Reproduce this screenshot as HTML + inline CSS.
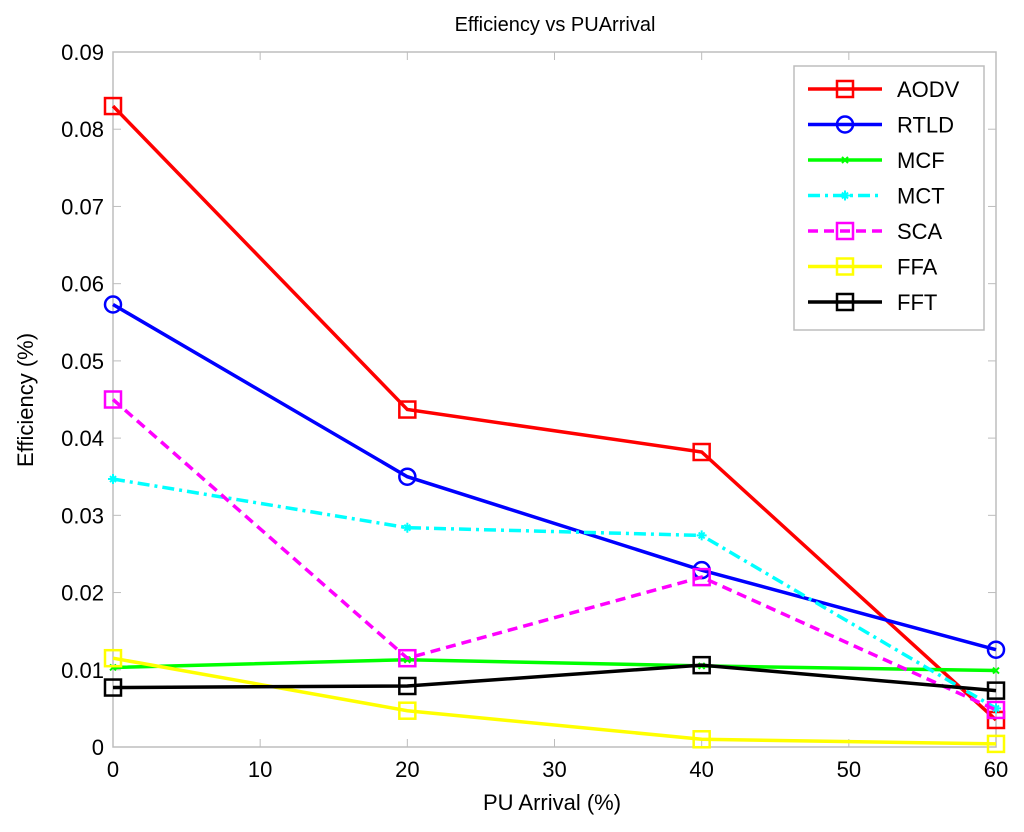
<!DOCTYPE html>
<html><head><meta charset="utf-8"><style>
body{margin:0;background:#fff;}
svg{display:block;font-family:"Liberation Sans",sans-serif;}
</style></head><body>
<svg id="chart" width="1024" height="832" xmlns="http://www.w3.org/2000/svg">
<rect width="1024" height="832" fill="#fff"/>
<text x="555" y="31" font-size="20" text-anchor="middle">Efficiency vs PUArrival</text>
<g id="axes"></g>
<g id="series"></g>
<g id="legend"></g>
<text x="552" y="810" font-size="22" text-anchor="middle">PU Arrival (%)</text>
<text transform="translate(33,400) rotate(-90)" font-size="22" text-anchor="middle">Efficiency (%)</text>
</svg>
<script>
const xVals=[0,20,40,60];
const xTicks=[0,10,20,30,40,50,60];
const yTicks=[0,0.01,0.02,0.03,0.04,0.05,0.06,0.07,0.08,0.09];
const yTickLabels=["0","0.01","0.02","0.03","0.04","0.05","0.06","0.07","0.08","0.09"];
const names=["AODV","RTLD","MCF","MCT","SCA","FFA","FFT"];
const aodv=[0.083,0.0437,0.0382,0.0035];
const rtld=[0.0573,0.035,0.0229,0.0126];
const mcf=[0.0103,0.0113,0.0105,0.0099];
const mct=[0.0347,0.0284,0.0274,0.005];
const sca=[0.045,0.0115,0.022,0.0048];
const ffa=[0.0115,0.0047,0.001,0.0004];
const fft=[0.0077,0.0079,0.0106,0.0073];

const L=113,R=996,T=52,B=747;
const xs=v=>L+(v-0)/60*(R-L);
const ys=v=>B-(v/0.09)*(B-T);
const NS="http://www.w3.org/2000/svg";
function mk(tag,attrs,parent){const e=document.createElementNS(NS,tag);for(const k in attrs)e.setAttribute(k,attrs[k]);parent.appendChild(e);return e;}
const axes=document.getElementById('axes');
const box=mk('rect',{x:L,y:T,width:R-L,height:B-T,fill:'none',stroke:'#bdbdbd','stroke-width':1.5},axes);


xTicks.forEach(t=>{
  const x=xs(t);
  mk('line',{x1:x,y1:B,x2:x,y2:B-8,stroke:'#bdbdbd'},axes);
  mk('line',{x1:x,y1:T,x2:x,y2:T+8,stroke:'#bdbdbd'},axes);
  const tx=mk('text',{x:x,y:B+30,'font-size':22,'text-anchor':'middle'},axes);
  tx.textContent=t;
  
  
});
yTicks.forEach((t,i)=>{
  const y=ys(t);
  mk('line',{x1:L,y1:y,x2:L+8,y2:y,stroke:'#bdbdbd'},axes);
  mk('line',{x1:R,y1:y,x2:R-8,y2:y,stroke:'#bdbdbd'},axes);
  const tx=mk('text',{x:L-9,y:y+8,'font-size':22,'text-anchor':'end'},axes);
  tx.textContent=yTickLabels[i];
  
  
});
const styles=[
 {d:aodv,c:'#ff0000',dash:'',m:'sq'},
 {d:rtld,c:'#0000ff',dash:'',m:'circ'},
 {d:mcf,c:'#00ff00',dash:'',m:'x'},
 {d:mct,c:'#00ffff',dash:'12 5 3 5',m:'star'},
 {d:sca,c:'#ff00ff',dash:'10 6',m:'sq'},
 {d:ffa,c:'#ffff00',dash:'',m:'sq'},
 {d:fft,c:'#000000',dash:'',m:'sq'}
];
function marker(g,m,x,y,c){
  if(m==='sq')mk('rect',{x:x-8,y:y-8,width:16,height:16,fill:'none',stroke:c,'stroke-width':2.5},g);
  else if(m==='circ')mk('circle',{cx:x,cy:y,r:8,fill:'none',stroke:c,'stroke-width':2.5},g);
  else if(m==='x'){mk('path',{d:`M${x-3} ${y-3}L${x+3} ${y+3}M${x-3} ${y+3}L${x+3} ${y-3}`,stroke:c,'stroke-width':2},g);}
  else {mk('path',{d:`M${x-5} ${y}L${x+5} ${y}M${x} ${y-5}L${x} ${y+5}M${x-3} ${y-3}L${x+3} ${y+3}M${x-3} ${y+3}L${x+3} ${y-3}`,stroke:c,'stroke-width':2},g);}
}
const sg=document.getElementById('series');
styles.forEach((s,i)=>{
  const g=mk('g',{},sg);
  
  
  const pts=s.d.map((v,j)=>xs(xVals[j])+','+ys(v)).join(' ');
  const pl=mk('polyline',{points:pts,fill:'none',stroke:s.c,'stroke-width':3.5,'stroke-dasharray':s.dash},g);
  s.d.forEach((v,j)=>marker(g,s.m,xs(xVals[j]),ys(v),s.c));
});
const lg=document.getElementById('legend');
const lb=mk('rect',{x:794,y:66,width:190,height:264,fill:'#fff',stroke:'#bdbdbd','stroke-width':1.5},lg);


styles.forEach((s,i)=>{
  const y=89+i*35.5;
  const g=mk('g',{},lg);
  
  
  mk('line',{x1:808,y1:y,x2:882,y2:y,stroke:s.c,'stroke-width':3.5,'stroke-dasharray':s.dash},g);
  marker(g,s.m,845,y,s.c);
  const t=mk('text',{x:897,y:y+8,'font-size':22},g);
  t.textContent=names[i];
});
</script>
</body></html>
